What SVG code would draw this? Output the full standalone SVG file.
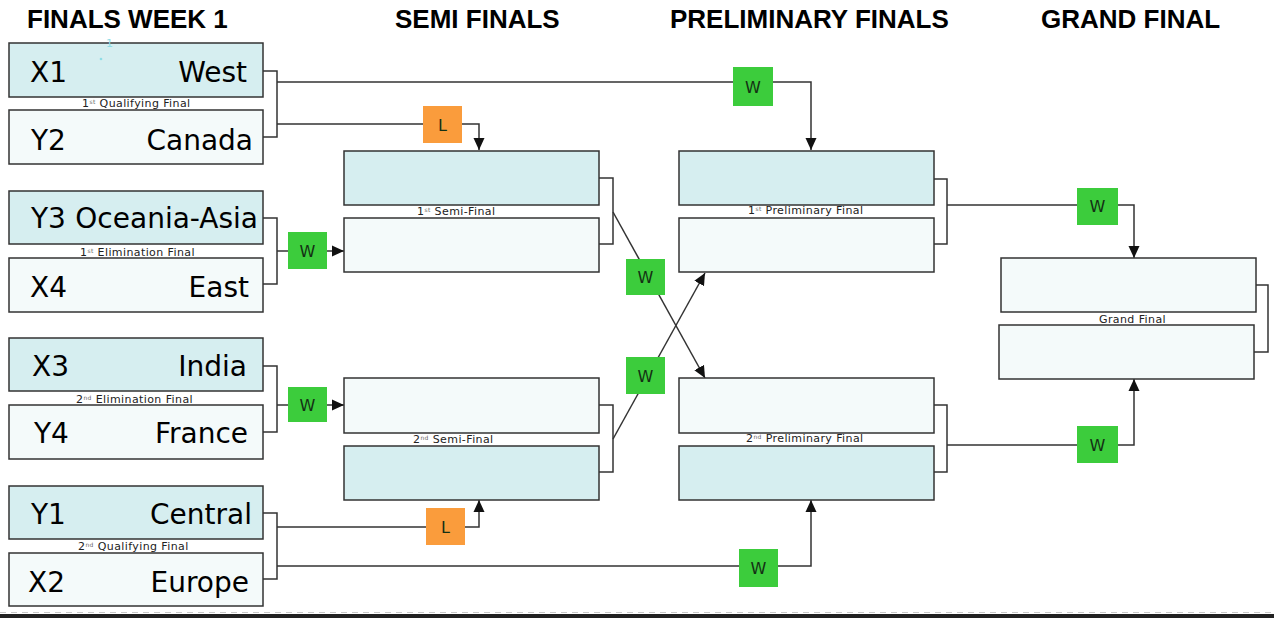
<svg xmlns="http://www.w3.org/2000/svg" width="1274" height="618" viewBox="0 0 1274 618">
<defs>
<marker id="arr" markerUnits="userSpaceOnUse" markerWidth="12" markerHeight="12" refX="12" refY="6" orient="auto">
<path d="M0,0.5 L12,6 L0,11.5 z" fill="#111"/>
</marker>
<style>
.hd{font-family:"Liberation Sans",Arial,sans-serif;font-weight:bold;font-size:26px;fill:#000}
.team{font-family:"DejaVu Sans",Verdana,sans-serif;font-size:28px;fill:#000}
.lbl{font-family:"DejaVu Sans",Verdana,sans-serif;font-size:11px;fill:#222;letter-spacing:0.4px}
.sup{font-size:6px;fill:#666}
.bA{fill:#d6eef0;stroke:#333;stroke-width:1.5}
.bB{fill:#f4fafa;stroke:#333;stroke-width:1.5}
.ln{fill:none;stroke:#333;stroke-width:1.5}
.gw{fill:#3ccc3c}
.ol{fill:#fa9c3c}
.bt{font-family:"DejaVu Sans",Verdana,sans-serif;font-size:16px;fill:#143014;text-anchor:middle}
</style>
</defs>
<rect width="1274" height="618" fill="#fff"/>

<g id="headers">
<text class="hd" x="27" y="28">FINALS WEEK 1</text>
<text class="hd" x="395" y="28">SEMI FINALS</text>
<text class="hd" x="670" y="28">PRELIMINARY FINALS</text>
<text class="hd" x="1041" y="28">GRAND FINAL</text>
</g>

<g id="connectors">
<path class="ln" d="M263,71 H277 V137 H263"/>
<path class="ln" d="M277,82 H811 V150" marker-end="url(#arr)"/>
<path class="ln" d="M277,124 H479 V150" marker-end="url(#arr)"/>
<path class="ln" d="M263,218 H277 V284 H263"/>
<path class="ln" d="M277,251 H344" marker-end="url(#arr)"/>
<path class="ln" d="M263,366 H277 V432 H263"/>
<path class="ln" d="M277,405 H344" marker-end="url(#arr)"/>
<path class="ln" d="M263,513 H277 V579 H263"/>
<path class="ln" d="M277,527 H479 V500" marker-end="url(#arr)"/>
<path class="ln" d="M277,566 H811 V500" marker-end="url(#arr)"/>
<path class="ln" d="M599,178 H613 V244 H599"/>
<path class="ln" d="M613,212 L705,378" marker-end="url(#arr)"/>
<path class="ln" d="M599,405 H613 V472 H599"/>
<path class="ln" d="M613,439 L705,273" marker-end="url(#arr)"/>
<path class="ln" d="M934,179 H947 V244 H934"/>
<path class="ln" d="M947,205 H1134 V258" marker-end="url(#arr)"/>
<path class="ln" d="M934,405 H947 V472 H934"/>
<path class="ln" d="M947,445 H1134 V379" marker-end="url(#arr)"/>
<path class="ln" d="M1255,285 H1268 V352 H1254"/>
</g>

<g id="qf1">
<rect class="bA" x="9" y="43" width="254" height="54"/>
<rect class="bB" x="9" y="110" width="254" height="54"/>
<text class="team" x="30" y="82">X1</text>
<text class="team" x="247" y="82" text-anchor="end">West</text>
<text class="team" x="31" y="150">Y2</text>
<text class="team" x="253" y="150" text-anchor="end">Canada</text>
<text class="lbl" x="82" y="107">1<tspan class="sup" dy="-3">st</tspan><tspan dy="3"> Qualifying Final</tspan></text>
<text x="106" y="47" font-family="DejaVu Sans, sans-serif" font-size="11" fill="#8fdde6">1</text>
<circle cx="101" cy="59" r="1.3" fill="#8fdde6"/>
</g>

<g id="ef1">
<rect class="bA" x="9" y="191" width="254" height="53"/>
<rect class="bB" x="9" y="258" width="254" height="54"/>
<text class="team" x="31" y="228">Y3</text>
<text class="team" x="258" y="228" text-anchor="end">Oceania-Asia</text>
<text class="team" x="30" y="297">X4</text>
<text class="team" x="249" y="297" text-anchor="end">East</text>
<text class="lbl" x="80" y="256">1<tspan class="sup" dy="-3">st</tspan><tspan dy="3"> Elimination Final</tspan></text>
</g>

<g id="ef2">
<rect class="bA" x="9" y="338" width="254" height="53"/>
<rect class="bB" x="9" y="405" width="254" height="54"/>
<text class="team" x="32" y="376">X3</text>
<text class="team" x="247" y="376" text-anchor="end">India</text>
<text class="team" x="34" y="443">Y4</text>
<text class="team" x="248" y="443" text-anchor="end">France</text>
<text class="lbl" x="76" y="403">2<tspan class="sup" dy="-3">nd</tspan><tspan dy="3">  Elimination Final</tspan></text>
</g>

<g id="qf2">
<rect class="bA" x="9" y="486" width="254" height="53"/>
<rect class="bB" x="9" y="553" width="254" height="53"/>
<text class="team" x="31" y="524">Y1</text>
<text class="team" x="252" y="524" text-anchor="end">Central</text>
<text class="team" x="28" y="592">X2</text>
<text class="team" x="249" y="592" text-anchor="end">Europe</text>
<text class="lbl" x="78" y="550">2<tspan class="sup" dy="-3">nd</tspan><tspan dy="3">  Qualifying Final</tspan></text>
</g>

<g id="sf1">
<rect class="bA" x="344" y="151" width="255" height="54"/>
<rect class="bB" x="344" y="218" width="255" height="54"/>
<text class="lbl" x="417" y="215">1<tspan class="sup" dy="-3">st</tspan><tspan dy="3"> Semi-Final</tspan></text>
</g>

<g id="sf2">
<rect class="bB" x="344" y="378" width="255" height="55"/>
<rect class="bA" x="344" y="446" width="255" height="54"/>
<text class="lbl" x="413" y="443">2<tspan class="sup" dy="-3">nd</tspan><tspan dy="3"> Semi-Final</tspan></text>
</g>

<g id="pf1">
<rect class="bA" x="679" y="151" width="255" height="54"/>
<rect class="bB" x="679" y="218" width="255" height="54"/>
<text class="lbl" x="748" y="214">1<tspan class="sup" dy="-3">st</tspan><tspan dy="3"> Preliminary Final</tspan></text>
</g>

<g id="pf2">
<rect class="bB" x="679" y="378" width="255" height="55"/>
<rect class="bA" x="679" y="446" width="255" height="54"/>
<text class="lbl" x="746" y="442">2<tspan class="sup" dy="-3">nd</tspan><tspan dy="3"> Preliminary Final</tspan></text>
</g>

<g id="gf">
<rect class="bB" x="1001" y="258" width="255" height="54"/>
<rect class="bB" x="999" y="325" width="255" height="54"/>
<text class="lbl" x="1099" y="323" letter-spacing="0.9">Grand Final</text>
</g>

<g id="badge-w-qf1"><rect class="gw" x="733" y="67" width="40" height="39"/><text class="bt" x="753" y="93">W</text></g>
<g id="badge-l-qf1"><rect class="ol" x="423" y="106" width="39" height="37"/><text class="bt" x="442.5" y="131">L</text></g>
<g id="badge-w-ef1"><rect class="gw" x="288" y="232" width="39" height="37"/><text class="bt" x="307.5" y="257">W</text></g>
<g id="badge-w-ef2"><rect class="gw" x="288" y="387" width="39" height="35"/><text class="bt" x="307.5" y="411">W</text></g>
<g id="badge-l-qf2"><rect class="ol" x="426" y="508" width="39" height="37"/><text class="bt" x="445.5" y="533">L</text></g>
<g id="badge-w-qf2"><rect class="gw" x="739" y="549" width="39" height="38"/><text class="bt" x="758.5" y="574">W</text></g>
<g id="badge-w-sf1"><rect class="gw" x="626" y="259" width="39" height="36"/><text class="bt" x="645.5" y="283">W</text></g>
<g id="badge-w-sf2"><rect class="gw" x="626" y="357" width="39" height="37"/><text class="bt" x="645.5" y="382">W</text></g>
<g id="badge-w-pf1"><rect class="gw" x="1077" y="188" width="41" height="37"/><text class="bt" x="1097.5" y="212">W</text></g>
<g id="badge-w-pf2"><rect class="gw" x="1077" y="426" width="41" height="37"/><text class="bt" x="1097.5" y="451">W</text></g>

<g id="footer">
<line x1="0" y1="612.5" x2="1274" y2="612.5" stroke="#c8c8c8" stroke-width="1" stroke-dasharray="6,5"/>
<rect x="0" y="614" width="1274" height="4" fill="#222"/>
</g>
</svg>
